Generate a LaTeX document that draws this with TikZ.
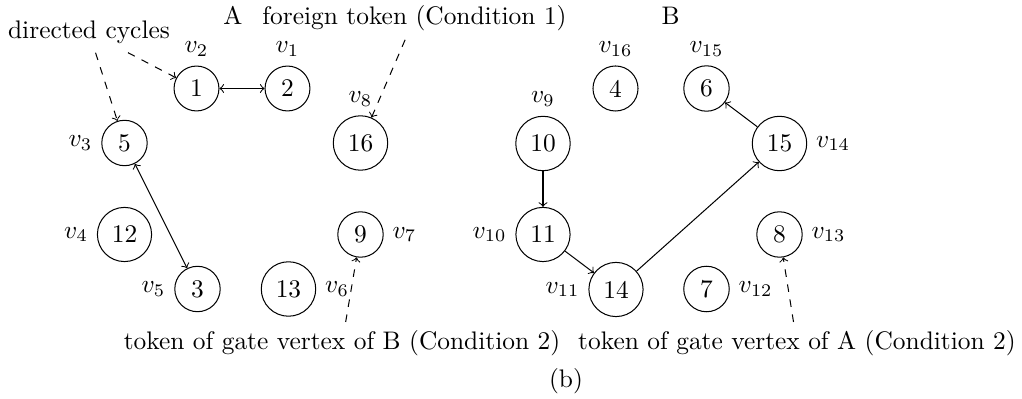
\documentclass[tikz,border=0pt]{standalone}
\usetikzlibrary{arrows}
\begin{document}
\begin{tikzpicture}[x=0.3937pt,y=-0.3937pt,
  vert/.style={draw,circle},
  txt/.style={anchor=base},
  note/.style={dashed,->},
  link/.style={->}]
\useasboundingbox (0,0) rectangle (1022,399);
% left graph (A)
\node[vert,label=above:$v_2$] (n1) at (196.5,88.5) {1};
\node[vert,label=above:$v_1$] (n2) at (287.5,88.5) {2};
\node[vert,label=left:$v_3$] (n5) at (124.5,143) {5};
\node[vert,label=above:$v_8$] (n16) at (360.5,143) {16};
\node[vert,label=left:$v_4$] (n12) at (124.5,234.5) {12};
\node[vert,label=right:$v_7$] (n9) at (360.5,234.5) {9};
\node[vert,label=left:$v_5$] (n3) at (197.5,289) {3};
\node[vert,label=right:$v_6$] (n13) at (288.5,289) {13};
% right graph (B)
\node[vert,label=above:$v_{16}$] (n4) at (615.5,88.5) {4};
\node[vert,label=above:$v_{15}$] (n6) at (706.5,88.5) {6};
\node[vert,label=above:$v_9$] (n10) at (543,143.5) {10};
\node[vert,label=right:$v_{14}$] (n15) at (779.5,143.5) {15};
\node[vert,label=left:$v_{10}$] (n11) at (543,234.5) {11};
\node[vert,label=right:$v_{13}$] (n8) at (779.5,234.5) {8};
\node[vert,label=left:$v_{11}$] (n14) at (616,289.5) {14};
\node[vert,label=right:$v_{12}$] (n7) at (706.5,289) {7};
% texts
\node[txt] (dc) at (89,38.5) {directed cycles};
\node[txt] (tA) at (233,24.5) {A};
\node[txt] (ft) at (414.5,24.5) {foreign token (Condition 1)};
\node[txt] (tB) at (670.5,24.5) {B};
\node[txt] (gb) at (342,350) {token of gate vertex of B (Condition 2)};
\node[txt] (ga) at (797,350) {token of gate vertex of A (Condition 2)};
\node[txt] (cap) at (566,388) {(b)};
% edges
\draw[<->] (n1) -- (n2);
\draw[<->] (n5) -- (n3);
\draw[link] (n10) -- (n11);
\draw[link] (n11) -- (n14);
\draw[link] (n14) -- (n15);
\draw[link] (n15) -- (n6);
% annotations
\draw[note] (dc) -- (n5);
\draw[note] (dc) -- (n1);
\draw[note] (ft) -- (n16);
\draw[note] (gb) -- (n9);
\draw[note] (ga) -- (n8);
\end{tikzpicture}
\end{document}
